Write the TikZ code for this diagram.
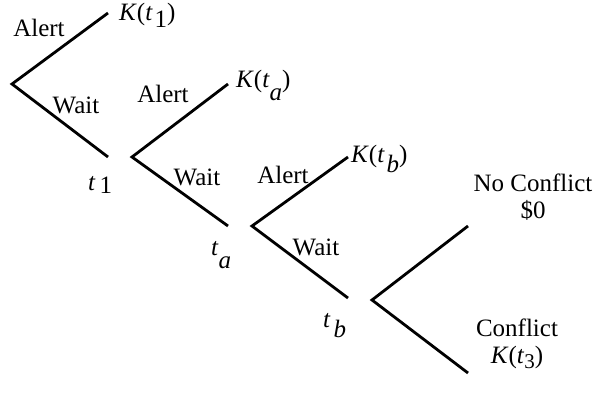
\documentclass[tikz,border=0pt]{standalone}
\usepackage{fontspec}
\setmainfont{Liberation Serif}
% lowered subscript set at full size
\newcommand{\lowsub}[2]{\kern#1\raisebox{-#2}{#1}}
\newcommand{\sbx}[3]{\kern#1\raisebox{-#2}{#3}}
\begin{document}
\begin{tikzpicture}[x=1pt,y=-1pt,
  branch/.style={line width=2.8pt,line join=miter,line cap=butt},
  lbl/.style={inner sep=0pt,font=\fontsize{25}{27}\selectfont},
  lblw/.style={lbl,anchor=base west},
  lblc/.style={lbl,anchor=base},
  outcome/.style={lbl,align=center,anchor=base}]
\useasboundingbox (0,0) rectangle (597,402);

% decision points and branch ends
\coordinate (d1) at (12,84);   \coordinate (d1u) at (108,13);  \coordinate (d1d) at (108,157);
\coordinate (d2) at (132,157); \coordinate (d2u) at (228,84);  \coordinate (d2d) at (228,226);
\coordinate (d3) at (252,226); \coordinate (d3u) at (348,157); \coordinate (d3d) at (348,298);
\coordinate (d4) at (372,300); \coordinate (d4u) at (468,226); \coordinate (d4d) at (468,373);

\draw[branch] (d1u) -- (d1) -- (d1d);
\draw[branch] (d2u) -- (d2) -- (d2d);
\draw[branch] (d3u) -- (d3) -- (d3d);
\draw[branch] (d4u) -- (d4) -- (d4d);

% branch labels
\node[lblc] (al1) at (39,36)   {Alert};
\node[lblc] (wt1) at (76,113)  {Wait};
\node[lblc] (al2) at (163,102) {Alert};
\node[lblc] (wt2) at (197,185) {Wait};
\node[lblc] (al3) at (283,183) {Alert};
\node[lblc] (wt3) at (316,255) {Wait};

% costs of alerting
\node[lblw] (k1) at (119,20)  {\textit{K}(\textit{t}\sbx{2pt}{7pt}{1})};
\node[lblw] (ka) at (236,87)  {\textit{K}(\textit{t}\sbx{0pt}{13pt}{\textit{a}})};
\node[lblw] (kb) at (351,162) {\textit{K}(\textit{t}\sbx{2pt}{10pt}{\textit{b}})};

% times
\node[lblw] (t1) at (88,190)  {\textit{t}\sbx{4pt}{3pt}{1}};
\node[lblw] (ta) at (211,255) {\textit{t}\sbx{0pt}{13pt}{\textit{a}}};
\node[lblw] (tb) at (323,327) {\textit{t}\sbx{3pt}{10pt}{\textit{b}}};

% final outcomes
\node[outcome] (nc) at (533,218) {No Conflict\\\$0};
\node[outcome] (cf) at (517,363) {Conflict\\\textit{K}(\textit{t}\raisebox{-5pt}{\fontsize{21}{21}\selectfont 3})};
\end{tikzpicture}
\end{document}
